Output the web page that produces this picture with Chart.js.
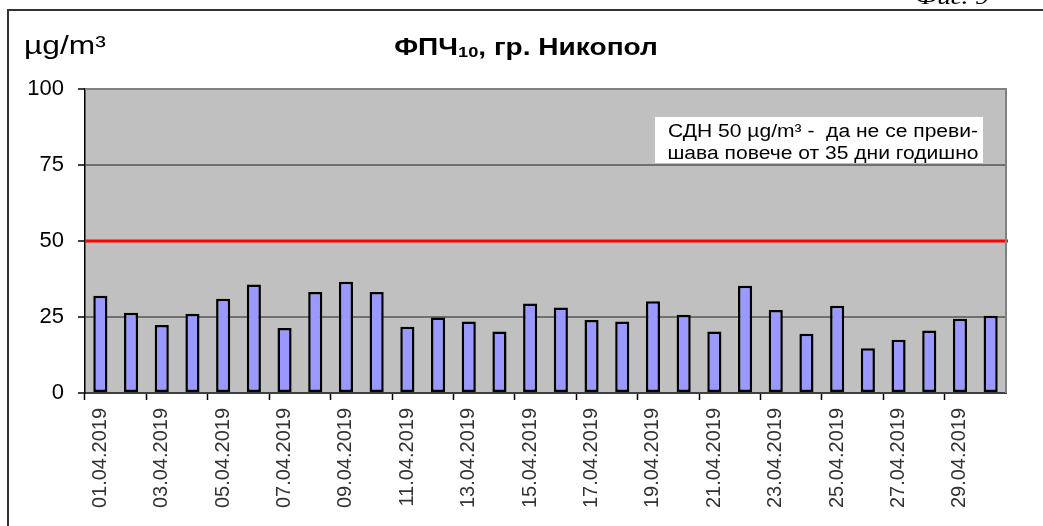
<!DOCTYPE html>
<html>
<head>
<meta charset="utf-8">
<script src="https://cdn.jsdelivr.net/npm/chart.js@4/dist/chart.umd.min.js"></script>
<style>
  html, body { margin: 0; padding: 0; background: #fff; }
  #wrap { width: 1043px; height: 526px; position: relative; }
</style>
</head>
<body>
<div id="wrap"><canvas id="pmChart" width="1043" height="526"></canvas></div>
<script>
// Daily PM10 averages, Nikopol, April 2019
const dates = [
  '01.04.2019', '02.04.2019', '03.04.2019', '04.04.2019', '05.04.2019',
  '06.04.2019', '07.04.2019', '08.04.2019', '09.04.2019', '10.04.2019',
  '11.04.2019', '12.04.2019', '13.04.2019', '14.04.2019', '15.04.2019',
  '16.04.2019', '17.04.2019', '18.04.2019', '19.04.2019', '20.04.2019',
  '21.04.2019', '22.04.2019', '23.04.2019', '24.04.2019', '25.04.2019',
  '26.04.2019', '27.04.2019', '28.04.2019', '29.04.2019', '30.04.2019'
];
const pm10 = [
  32.0, 26.4, 22.4, 26.1, 31.0, 35.7, 21.4, 33.2, 36.6, 33.2,
  21.8, 24.8, 23.5, 20.2, 29.4, 28.1, 24.0, 23.5, 30.2, 25.7,
  20.2, 35.3, 27.3, 19.5, 28.7, 14.7, 17.5, 20.6, 24.4, 25.4
];
const yTicks = [0, 25, 50, 75, 100];
const limitValue = 50;
const noteLines = ['СДН 50 µg/m³ -  да не се преви-', 'шава повече от 35 дни годишно'];

const FONT = "'Liberation Sans', Arial, sans-serif";

// the source image is a bit wider than tall, so text is stretched sideways
function wideText(ctx, text, x, y, sx, align) {
  const w = ctx.measureText(text).width * sx;
  let left = x;
  if (align === 'center') left = x - w / 2;
  else if (align === 'right') left = x - w;
  ctx.save();
  ctx.textAlign = 'left';
  ctx.translate(left, y);
  ctx.scale(sx, 1);
  ctx.fillText(text, 0, 0);
  ctx.restore();
  return w;
}

// background, frame, titles, limit line and note
const decor = {
  id: 'decor',
  beforeDraw(chart) {
    const { ctx, chartArea: a } = chart;
    ctx.save();
    ctx.fillStyle = '#fff';
    ctx.fillRect(0, 0, chart.width, chart.height);
    ctx.fillStyle = '#c0c0c0';
    ctx.fillRect(a.left, a.top, a.right - a.left, a.bottom - a.top);

    // page frame
    ctx.strokeStyle = '#333';
    ctx.lineWidth = 2;
    ctx.beginPath();
    ctx.moveTo(8, chart.height);
    ctx.lineTo(8, 10);
    ctx.lineTo(chart.width, 10);
    ctx.stroke();

    // figure caption, cut off by the page edge
    ctx.fillStyle = '#000';
    ctx.font = "italic 24px 'Liberation Serif', 'Times New Roman', serif";
    ctx.textBaseline = 'alphabetic';
    wideText(ctx, 'Фиг. 9', 915, 4, 1.15, 'left');

    // unit
    ctx.font = '26px ' + FONT;
    ctx.textBaseline = 'middle';
    wideText(ctx, 'µg/m³', 24, 47, 1.22, 'left');

    // title with subscript
    const sx = 1.22;
    const p1 = 'ФПЧ', sub = '10', p2 = ', гр. Никопол';
    ctx.textBaseline = 'alphabetic';
    ctx.font = 'bold 23px ' + FONT;
    const w1 = ctx.measureText(p1).width * sx, w3 = ctx.measureText(p2).width * sx;
    ctx.font = 'bold 15px ' + FONT;
    const w2 = ctx.measureText(sub).width * sx;
    let x = 526 - (w1 + w2 + w3) / 2;
    ctx.font = 'bold 23px ' + FONT;
    x += wideText(ctx, p1, x, 55, sx, 'left');
    ctx.font = 'bold 15px ' + FONT;
    x += wideText(ctx, sub, x, 57, sx, 'left');
    ctx.font = 'bold 23px ' + FONT;
    wideText(ctx, p2, x, 55, sx, 'left');
    ctx.restore();
  },
  beforeDatasetsDraw(chart) {
    const { ctx, chartArea: a } = chart;
    const y = chart.scales.y.getPixelForValue(limitValue);
    ctx.save();
    ctx.strokeStyle = '#ff0000';
    ctx.lineWidth = 3;
    ctx.beginPath();
    ctx.moveTo(a.left, y);
    ctx.lineTo(a.right + 2, y);
    ctx.stroke();

    // plot border (top and right)
    ctx.strokeStyle = '#808080';
    ctx.lineWidth = 2;
    ctx.beginPath();
    ctx.moveTo(a.left, a.top);
    ctx.lineTo(a.right, a.top);
    ctx.lineTo(a.right, a.bottom);
    ctx.stroke();

    // note box
    ctx.fillStyle = '#fff';
    ctx.fillRect(655, 117, 328, 46);
    ctx.fillStyle = '#000';
    ctx.font = '18px ' + FONT;
    ctx.textBaseline = 'middle';
    wideText(ctx, noteLines[0], 823, 132, 1.17, 'center');
    wideText(ctx, noteLines[1], 823, 154, 1.17, 'center');
    ctx.restore();
  }
};

new Chart(document.getElementById('pmChart'), {
  type: 'bar',
  data: {
    labels: dates,
    datasets: [{
      data: pm10,
      backgroundColor: '#9999ff',
      borderColor: '#000',
      borderWidth: 2.5,
      borderSkipped: false,
      barPercentage: 0.46,
      categoryPercentage: 1.0
    }]
  },
  options: {
    responsive: false,
    animation: false,
    layout: { padding: { left: 0, top: 89, right: 37, bottom: 0 } },
    plugins: {
      legend: { display: false },
      tooltip: { enabled: false }
    },
    scales: {
      x: {
        afterFit: s => { s.height = 133; },
        grid: {
          offset: true,
          drawOnChartArea: false,
          drawTicks: true,
          tickLength: 7,
          tickWidth: 1.5,
          tickColor: c => (c.index % 2 === 0 ? '#000' : 'rgba(0,0,0,0)')
        },
        border: { display: true, color: '#404040', width: 2 },
        ticks: {
          autoSkip: false,
          minRotation: 90,
          maxRotation: 90,
          padding: 8,
          color: '#333',
          font: { family: FONT, size: 20 },
          callback: function (val, i) {
            return i % 2 === 0 ? this.getLabelForValue(val) : '';
          }
        }
      },
      y: {
        min: yTicks[0],
        max: yTicks[yTicks.length - 1],
        afterFit: s => { s.width = 85; },
        afterBuildTicks: s => { s.ticks = yTicks.map(v => ({ value: v })); },
        grid: {
          color: '#707070',
          lineWidth: 2,
          drawTicks: true,
          tickLength: 7,
          tickColor: '#000',
          tickWidth: 1.5
        },
        border: { display: true, color: '#000', width: 1.5 },
        ticks: {
          padding: 14,
          color: '#000',
          font: { family: FONT, size: 22 }
        }
      }
    }
  },
  plugins: [decor]
});
</script>
</body>
</html>
